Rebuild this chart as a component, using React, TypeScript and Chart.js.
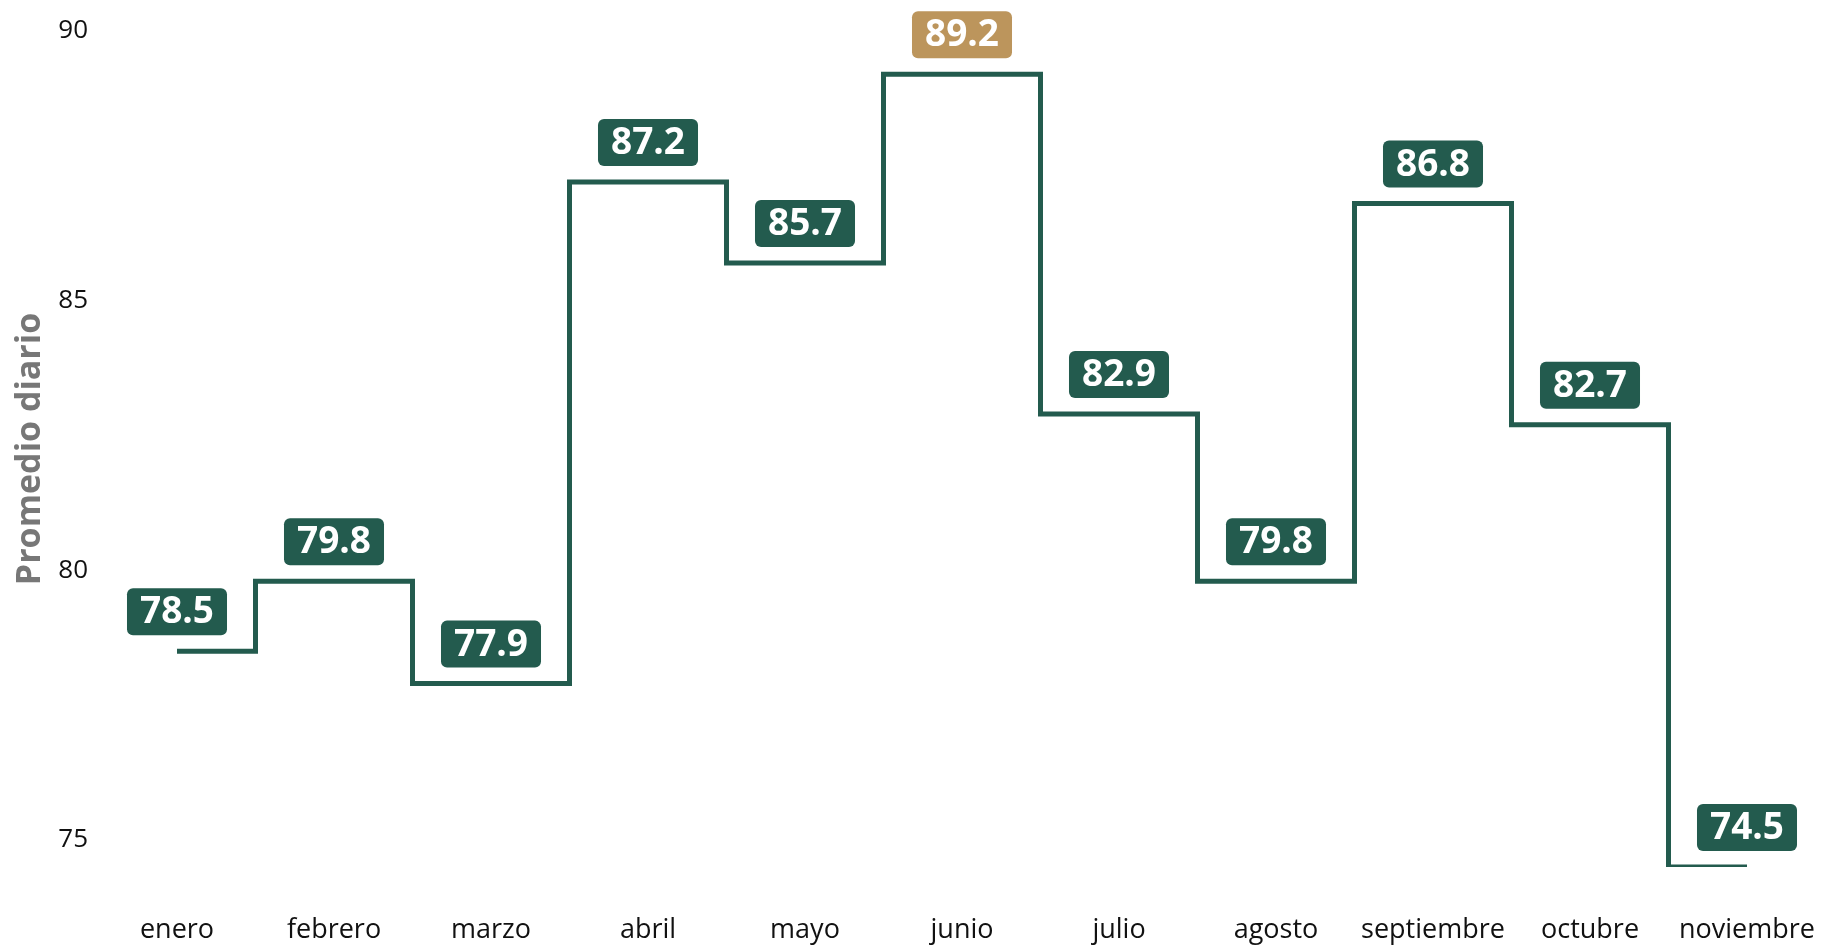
import React, { useEffect, useRef } from "react";
import { Chart, registerables } from "chart.js";

Chart.register(...registerables);

const months = [
  "enero",
  "febrero",
  "marzo",
  "abril",
  "mayo",
  "junio",
  "julio",
  "agosto",
  "septiembre",
  "octubre",
  "noviembre",
];
const values = [78.5, 79.8, 77.9, 87.2, 85.7, 89.2, 82.9, 79.8, 86.8, 82.7, 74.5];
const yTicks = [75, 80, 85, 90];
const highlightMonth = "junio";
const yTitle = "Promedio diario";

const GREEN = "#235B4E";
const GOLD = "#BC955C";

const labelPlugin = {
  id: "valueLabels",
  afterDatasetsDraw(chart: any) {
    const ctx = chart.ctx as CanvasRenderingContext2D;
    const meta = chart.getDatasetMeta(0);
    ctx.save();
    ctx.font = "bold 37px 'Open Sans'";
    meta.data.forEach((pt: any, i: number) => {
      const text = values[i].toFixed(1);
      const tw = ctx.measureText(text).width;
      const w = tw + 26;
      const h = 47;
      const x = pt.x - w / 2;
      const y = pt.y - 16 - h;
      ctx.fillStyle = months[i] === highlightMonth ? GOLD : GREEN;
      ctx.beginPath();
      (ctx as any).roundRect(x, y, w, h, 6);
      ctx.fill();
      ctx.fillStyle = "#ffffff";
      ctx.textAlign = "center";
      ctx.textBaseline = "middle";
      ctx.fillText(text, pt.x, y + h / 2 + 1);
    });
    ctx.restore();
  },
};

export default function App() {
  const ref = useRef<HTMLCanvasElement | null>(null);

  useEffect(() => {
    if (!ref.current) return;
    const chart = new Chart(ref.current, {
      type: "line",
      data: {
        labels: months,
        datasets: [
          {
            data: values,
            borderColor: GREEN,
            borderWidth: 5,
            stepped: "middle",
            pointRadius: 0,
            pointHoverRadius: 0,
            fill: false,
            borderCapStyle: "butt",
            borderJoinStyle: "miter",
          },
        ],
      },
      options: {
        animation: false,
        responsive: true,
        maintainAspectRatio: false,
        devicePixelRatio: 1,
        layout: { padding: { top: 31, right: 79, left: 0, bottom: 0 } },
        plugins: {
          legend: { display: false },
          tooltip: { enabled: false },
        },
        scales: {
          x: {
            offset: false,
            grid: { display: false, drawTicks: false },
            border: { display: false },
            ticks: {
              color: "#111111",
              font: { family: "'Open Sans'", size: 27 },
              padding: 47,
              maxRotation: 0,
              autoSkip: false,
            },
            afterFit: (s: any) => {
              s.height = 78;
              s.paddingLeft = 0;
              s.paddingRight = 0;
            },
          },
          y: {
            min: 74.5,
            max: 90,
            grid: { display: false, drawTicks: false },
            border: { display: false },
            afterBuildTicks: (s: any) => {
              s.ticks = yTicks.map((v) => ({ value: v }));
            },
            ticks: {
              color: "#111111",
              font: { family: "'Open Sans'", size: 26 },
              padding: 89,
            },
            title: {
              display: true,
              text: yTitle,
              color: "#777777",
              font: { family: "'Open Sans'", size: 34, weight: "bold" },
              padding: { top: 10, bottom: 0 },
            },
            afterFit: (s: any) => {
              s.width = 177;
              s.paddingTop = 0;
              s.paddingBottom = 0;
            },
          },
        },
      },
      plugins: [labelPlugin],
    });
    return () => chart.destroy();
  }, []);

  return (
    <div
      style={{
        position: "fixed",
        left: 0,
        top: 0,
        width: "1826px",
        height: "945px",
        background: "#ffffff",
      }}
    >
      <canvas ref={ref} />
    </div>
  );
}
